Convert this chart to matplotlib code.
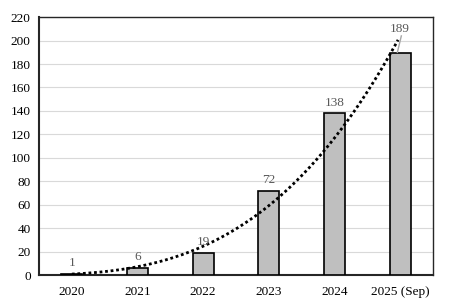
import numpy as np
import matplotlib
matplotlib.use("Agg")
import matplotlib.pyplot as plt

# donnees
annees = ["2020", "2021", "2022", "2023", "2024", "2025 (Sep)"]
valeurs = [1, 6, 19, 72, 138, 189]
graduations = [0, 20, 40, 60, 80, 100, 120, 140, 160, 180, 200, 220]

plt.rcParams['font.family'] = ['Liberation Serif', 'DejaVu Serif']

fig = plt.figure(figsize=(4.49, 3.06), dpi=100)
ax = fig.add_axes([0.087, 0.101, 0.877, 0.843])

x = np.arange(len(annees))
ax.bar(x, valeurs, width=0.32, color='#bfbfbf', edgecolor='black', linewidth=1.2, zorder=3)

# courbe de tendance (puissance, comme dans Excel)
b, ln_a = np.polyfit(np.log(x + 1), np.log(valeurs), 1)
xt = np.linspace(0, 4.97, 200)
yt = np.exp(ln_a) * (xt + 1) ** b
ax.plot(xt, yt, color='black', linestyle=(0, (1, 1)), linewidth=2, zorder=4)

for i, v in enumerate(valeurs):
    if i == len(valeurs) - 1:
        # etiquette decalee avec trait de rappel
        ax.text(i, v + 16, str(v), ha='center', va='bottom', fontsize=9.5, color='#595959', zorder=5)
        ax.plot([i + 0.02, i - 0.04], [v + 15, v + 1], color='#a6a6a6', linewidth=1.0, zorder=5)
    else:
        ax.text(i, v + 4, str(v), ha='center', va='bottom', fontsize=9.5, color='#595959', zorder=5)

ax.set_xlim(-0.5, 5.5)
ax.set_ylim(0, 220)
ax.set_yticks(graduations)
ax.set_xticks(x)
ax.set_xticklabels(annees)
ax.tick_params(axis='both', length=0, labelsize=9.5, colors='black')
ax.tick_params(axis='x', pad=8)
ax.tick_params(axis='y', pad=6)
ax.grid(axis='y', color='#d9d9d9', linewidth=0.8, zorder=0)
ax.set_axisbelow(True)

for s in ['left', 'bottom']:
    ax.spines[s].set_linewidth(1.5)
    ax.spines[s].set_color('#262626')
for s in ['top', 'right']:
    ax.spines[s].set_linewidth(1.0)
    ax.spines[s].set_color('#262626')

fig.savefig("out.png", dpi=100)
